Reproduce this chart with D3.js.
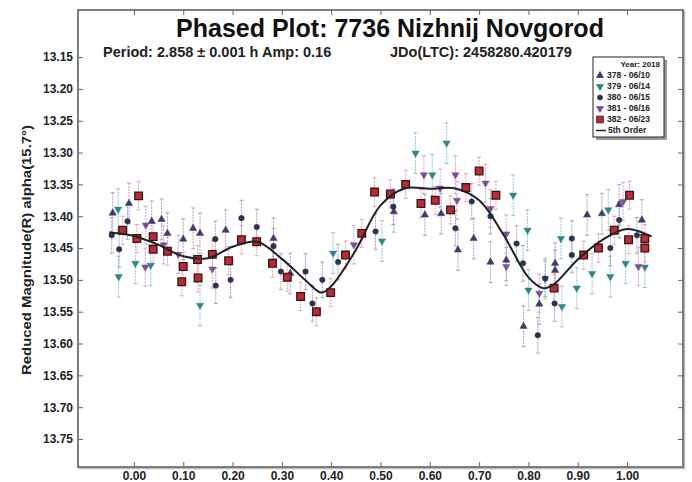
<!DOCTYPE html>
<html>
<head>
<meta charset="utf-8">
<script src="https://cdn.jsdelivr.net/npm/d3@7"></script>
<style>
  body { margin: 0; background: #fff; }
  svg { display: block; font-family: "Liberation Sans", Arial, sans-serif; }
  .tick text { font-weight: bold; fill: #222; }
</style>
</head>
<body>
<svg id="chart" width="692" height="482"></svg>
<script>
// tick labels
var xTicks = [0, 0.1, 0.2, 0.3, 0.4, 0.5, 0.6, 0.7, 0.8, 0.9, 1.0];
var yTicks = [13.15, 13.20, 13.25, 13.30, 13.35, 13.40, 13.45, 13.50, 13.55, 13.60, 13.65, 13.70, 13.75];

// sessions
var sessionNames = ["378 - 06/10", "379 - 06/14", "380 - 06/15", "381 - 06/16", "382 - 06/23"];
var sessionErr = [0.032, 0.032, 0.028, 0.03, 0.022];

// [phase, reduced magnitude]
var s378 = [[-0.043,13.395],[-0.01,13.38],[0.036,13.408],[0.056,13.405],[0.068,13.427],[0.10,13.436],[0.12,13.419],
  [0.134,13.427],[0.186,13.422],[0.283,13.435],[0.317,13.49],[0.527,13.393],[0.59,13.398],[0.623,13.396],[0.657,13.453],
  [0.689,13.435],[0.723,13.472],[0.755,13.469],[0.822,13.538],[0.79,13.573],[0.854,13.474],[0.854,13.485],[0.919,13.398],
  [0.949,13.396],[0.984,13.382],[1.03,13.406]];
var s379 = [[-0.032,13.389],[-0.031,13.495],[0.003,13.474],[0.034,13.477],[0.134,13.54],[0.404,13.458],[0.503,13.439],
  [0.571,13.301],[0.634,13.285],[0.605,13.335],[0.769,13.367],[0.798,13.422],[0.8,13.516],[0.834,13.498],[0.866,13.435],
  [0.868,13.542],[0.898,13.513],[0.929,13.49],[0.962,13.39],[0.966,13.495],[0.997,13.474],[1.036,13.48]];
var s380 = [[-0.045,13.43],[-0.03,13.452],[-0.013,13.408],[0.165,13.436],[0.166,13.509],[0.196,13.5],[0.218,13.403],
  [0.249,13.417],[0.283,13.447],[0.298,13.487],[0.348,13.487],[0.362,13.537],[0.382,13.5],[0.414,13.472],[0.49,13.424],
  [0.526,13.385],[0.652,13.419],[0.685,13.377],[0.723,13.4],[0.776,13.443],[0.789,13.474],[0.819,13.587],[0.834,13.498],
  [0.853,13.537],[0.888,13.461],[0.888,13.435],[0.966,13.45],[0.984,13.406],[1.02,13.43]];
var s381 = [[0.024,13.414],[0.023,13.48],[0.06,13.445],[0.09,13.46],[0.159,13.483],[0.446,13.445],[0.588,13.335],
  [0.621,13.356],[0.652,13.335],[0.655,13.375],[0.713,13.348],[0.723,13.388],[0.755,13.428],[0.755,13.479],
  [0.822,13.521],[0.992,13.377],[1.023,13.479]];
var s382 = [[-0.023,13.422],[0.006,13.435],[0.0095,13.368],[0.039,13.432],[0.039,13.452],[0.068,13.455],[0.10,13.479],
  [0.097,13.503],[0.129,13.468],[0.13,13.497],[0.159,13.46],[0.192,13.47],[0.218,13.437],[0.249,13.44],[0.281,13.474],
  [0.311,13.496],[0.338,13.526],[0.37,13.55],[0.399,13.52],[0.429,13.461],[0.462,13.427],[0.488,13.362],[0.52,13.365],
  [0.551,13.35],[0.582,13.38],[0.611,13.375],[0.642,13.39],[0.673,13.355],[0.70,13.329],[0.734,13.367],[0.852,13.513],
  [0.912,13.461],[0.942,13.45],[0.974,13.422],[1.005,13.367],[1.003,13.437],[1.036,13.435],[1.036,13.45]];

// 5th order fit
var fitPhase = [-0.05, 0.0, 0.05, 0.10, 0.15, 0.20, 0.25, 0.30, 0.35, 0.38, 0.40, 0.45, 0.50, 0.55, 0.60, 0.65,
  0.70, 0.75, 0.80, 0.83, 0.85, 0.90, 0.95, 1.00, 1.05];
var fitMag = [13.425, 13.431, 13.445, 13.463, 13.466, 13.448, 13.44, 13.467, 13.502, 13.52, 13.51, 13.453, 13.383,
  13.356, 13.357, 13.356, 13.375, 13.43, 13.496, 13.513, 13.508, 13.468, 13.437, 13.42, 13.432];

var svg = d3.select("#chart");

// plot frame in pixels
var pL = 78, pR = 683, pT = 10, pB = 467;

var x = d3.scaleLinear().domain([-0.1134, 1.1134]).range([pL, pR]);
var y = d3.scaleLinear().domain([13.076, 13.794]).range([pT, pB]);

// frame with a soft shadow
svg.append("rect")
  .attr("x", pL + 1.5).attr("y", pT + 1.5)
  .attr("width", pR - pL).attr("height", pB - pT)
  .attr("fill", "none").attr("stroke", "#bbb").attr("stroke-width", 1.5);
svg.append("rect")
  .attr("x", pL).attr("y", pT)
  .attr("width", pR - pL).attr("height", pB - pT)
  .attr("fill", "#fff").attr("stroke", "#555").attr("stroke-width", 1.5);

// axes, ticks pointing in
var fmt2 = d3.format(".2f");
var gx = svg.append("g").attr("transform", "translate(0," + pB + ")")
  .call(d3.axisBottom(x).tickValues(xTicks).tickFormat(fmt2).tickSize(-5).tickPadding(4));
gx.selectAll("text").style("font-size", "12px");
svg.append("g").attr("transform", "translate(0," + pT + ")")
  .call(d3.axisTop(x).tickValues(xTicks).tickFormat("").tickSize(-5));
var gy = svg.append("g").attr("transform", "translate(" + pL + ",0)")
  .call(d3.axisLeft(y).tickValues(yTicks).tickFormat(fmt2).tickSize(-5).tickPadding(5));
gy.selectAll("text").style("font-size", "12px");
svg.append("g").attr("transform", "translate(" + pR + ",0)")
  .call(d3.axisRight(y).tickValues(yTicks).tickFormat("").tickSize(-5));
svg.selectAll(".domain").remove();
svg.selectAll(".tick line").attr("stroke", "#666");

// titles
svg.append("text")
  .attr("x", 390).attr("y", 37)
  .attr("text-anchor", "middle")
  .style("font-size", "25px").style("font-weight", "bold").attr("fill", "#111")
  .text("Phased Plot: 7736 Nizhnij Novgorod");
svg.append("text")
  .attr("x", 103).attr("y", 57)
  .style("font-size", "14.5px").style("font-weight", "bold").attr("fill", "#222")
  .text("Period: 2.858 \u00b1 0.001 h  Amp: 0.16");
svg.append("text")
  .attr("x", 390).attr("y", 57)
  .style("font-size", "14.5px").style("font-weight", "bold").attr("fill", "#222")
  .text("JDo(LTC): 2458280.420179");
svg.append("text")
  .attr("transform", "translate(31,250) rotate(-90)")
  .attr("text-anchor", "middle")
  .attr("textLength", 250).attr("lengthAdjust", "spacingAndGlyphs")
  .style("font-size", "12px").style("font-weight", "bold").attr("fill", "#222")
  .text("Reduced Magnitude(R) alpha(15.7\u00b0)");

// series styles
var series = [
  { name: sessionNames[0], data: s378, err: sessionErr[0], sym: d3.symbolTriangle, size: 23, rot: 0, fill: "#3a3d6e", stroke: "#3a3d6e", bar: "#aaa3cc" },
  { name: sessionNames[1], data: s379, err: sessionErr[1], sym: d3.symbolTriangle, size: 23, rot: 180, fill: "#2f8585", stroke: "#2f8585", bar: "#93c9c9" },
  { name: sessionNames[2], data: s380, err: sessionErr[2], sym: d3.symbolCircle, size: 24, rot: 0, fill: "#2a3352", stroke: "#2a3352", bar: "#9ea5c2" },
  { name: sessionNames[3], data: s381, err: sessionErr[3], sym: d3.symbolTriangle, size: 23, rot: 180, fill: "#7a4f9c", stroke: "#7a4f9c", bar: "#cfa6da" },
  { name: sessionNames[4], data: s382, err: sessionErr[4], sym: d3.symbolSquare, size: 58, rot: 0, fill: "#bd2a33", stroke: "#3b1414", bar: "#eba2aa" }
];

var plot = svg.append("g");

series.forEach(function (s) {
  var g = plot.append("g");
  g.selectAll("line.err")
    .data(s.data)
    .enter().append("line")
    .attr("class", "err")
    .attr("x1", function (d) { return x(d[0]); })
    .attr("x2", function (d) { return x(d[0]); })
    .attr("y1", function (d) { return y(d[1] - s.err); })
    .attr("y2", function (d) { return y(d[1] + s.err); })
    .attr("stroke", s.bar).attr("stroke-width", 1).attr("stroke-dasharray", "2,1");
  [-1, 1].forEach(function (sgn) {
    g.selectAll(null)
      .data(s.data)
      .enter().append("line")
      .attr("x1", function (d) { return x(d[0]) - 2; })
      .attr("x2", function (d) { return x(d[0]) + 2; })
      .attr("y1", function (d) { return y(d[1] + sgn * s.err); })
      .attr("y2", function (d) { return y(d[1] + sgn * s.err); })
      .attr("stroke", s.bar).attr("stroke-width", 1);
  });
});

series.forEach(function (s) {
  var shape = d3.symbol().type(s.sym).size(s.size);
  plot.append("g").selectAll("path")
    .data(s.data)
    .enter().append("path")
    .attr("d", shape)
    .attr("transform", function (d) {
      return "translate(" + x(d[0]) + "," + y(d[1]) + ") rotate(" + s.rot + ")";
    })
    .attr("fill", s.fill)
    .attr("stroke", s.stroke)
    .attr("stroke-width", s.sym === d3.symbolSquare ? 1.3 : 0.5);
});

// fit curve
var fit = fitPhase.map(function (p, i) { return [p, fitMag[i]]; });
plot.append("path")
  .datum(fit)
  .attr("d", d3.line()
    .x(function (d) { return x(d[0]); })
    .y(function (d) { return y(d[1]); })
    .curve(d3.curveCatmullRom))
  .attr("fill", "none").attr("stroke", "#1e2324").attr("stroke-width", 2);

// legend
var lg = svg.append("g").attr("transform", "translate(593,57)");
lg.append("rect").attr("x", 3).attr("y", 3).attr("width", 71).attr("height", 80).attr("fill", "#999");
lg.append("rect").attr("width", 71).attr("height", 80).attr("fill", "#fff").attr("stroke", "#222").attr("stroke-width", 1);
lg.append("text").attr("x", 67).attr("y", 10).attr("text-anchor", "end")
  .style("font-size", "8px").style("font-weight", "bold").attr("fill", "#222").text("Year: 2018");

series.forEach(function (s, i) {
  var yy = 21 + i * 11;
  lg.append("path")
    .attr("d", d3.symbol().type(s.sym).size(s.sym === d3.symbolSquare ? 45 : 20)())
    .attr("transform", "translate(7," + (yy - 2.5) + ") rotate(" + s.rot + ")")
    .attr("fill", s.fill).attr("stroke", s.stroke).attr("stroke-width", 0.8);
  lg.append("text").attr("x", 14).attr("y", yy)
    .style("font-size", "8.5px").style("font-weight", "bold").attr("fill", "#222").text(s.name);
});
lg.append("line").attr("x1", 3).attr("x2", 13).attr("y1", 73.5).attr("y2", 73.5)
  .attr("stroke", "#1e2324").attr("stroke-width", 1.5);
lg.append("text").attr("x", 15).attr("y", 76)
  .style("font-size", "8.5px").style("font-weight", "bold").attr("fill", "#222").text("5th Order");
</script>
</body>
</html>
